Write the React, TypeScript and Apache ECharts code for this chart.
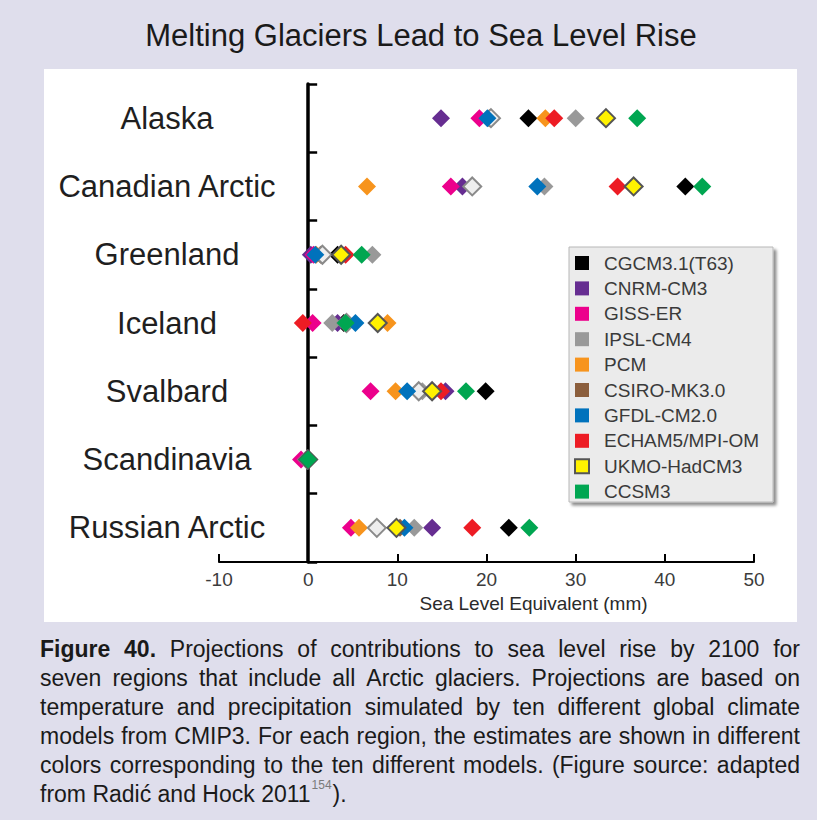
import React, { useEffect, useRef } from "react";
import * as echarts from "echarts";

const regions = ["Alaska", "Canadian Arctic", "Greenland", "Iceland", "Svalbard", "Scandinavia", "Russian Arctic"];

const modelNames = ["CGCM3.1(T63)", "CNRM-CM3", "GISS-ER", "IPSL-CM4", "PCM", "CSIRO-MK3.0", "GFDL-CM2.0", "ECHAM5/MPI-OM", "UKMO-HadCM3", "CCSM3"];

const cgcm = [24.7, 42.3, 3.3, 4.0, 19.9, -0.1, 22.5];
const cnrm = [14.9, 17.3, 0.3, 3.3, 15.4, -0.1, 13.9];
const giss = [19.2, 16.0, 0.6, 0.5, 7.0, -0.8, 4.8];
const ipsl = [30.0, 26.5, 7.2, 2.7, 12.8, -0.1, 11.9];
const pcm = [26.6, 6.6, 0.9, 8.9, 9.8, -0.1, 5.7];
const csiro = [20.3, 18.4, 1.4, 4.2, 13.9, -0.2, 10.3];
const meanVals = [20.5, 18.4, 1.6, 4.3, 12.4, -0.1, 7.7];
const gfdl = [20.1, 25.7, 0.8, 5.3, 11.1, -0.1, 10.8];
const echam = [27.6, 34.7, 4.2, -0.6, 14.9, 0.0, 18.4];
const ukmo = [33.4, 36.5, 3.7, 7.8, 13.9, 0.0, 9.9];
const ccsm = [36.9, 44.2, 6.0, 4.2, 17.7, 0.0, 24.8];

const xTicks = [-10, 0, 10, 20, 30, 40, 50];

const titleText = "Melting Glaciers Lead to Sea Level Rise";
const axisNameText = "Sea Level Equivalent (mm)";
const captionLines = [
  "Figure 40. Projections of contributions to sea level rise by 2100 for",
  "seven regions that include all Arctic glaciers. Projections are based on",
  "temperature and precipitation simulated by ten different global climate",
  "models from CMIP3. For each region, the estimates are shown in different",
  "colors corresponding to the ten different models. (Figure source: adapted",
];
const captionLast = "from Radić and Hock 2011";
const captionSup = "154";
const captionEnd = ").";

const FONT = '"Liberation Sans", Arial, sans-serif';

export default function App() {
  const ref = useRef<HTMLDivElement>(null);
  useEffect(() => {
    document.body.style.margin = "0";
    const chart = echarts.init(ref.current!, null, { renderer: "svg" });

    const canvas = document.createElement("canvas");
    const ctx = canvas.getContext("2d")!;
    const measure = (t: string, size: number, bold: boolean) => {
      ctx.font = `${bold ? "bold " : ""}${size}px "Liberation Sans", Arial, sans-serif`;
      return ctx.measureText(t).width;
    };

    const capL = 40;
    const capR = 800;
    const capSize = 23;
    const baseMid = 649;
    const lineStep = 29;
    const graphics: any[] = [];
    graphics.push({
      type: "rect",
      shape: { x: 44, y: 69, width: 753, height: 553 },
      style: { fill: "#ffffff" },
      z: -10,
    });
    graphics.push({
      type: "rect",
      shape: { x: 569, y: 247, width: 204, height: 255 },
      style: {
        fill: "#ebebeb",
        stroke: "#b8b8b8",
        lineWidth: 1,
        shadowBlur: 3,
        shadowOffsetX: 3,
        shadowOffsetY: 3,
        shadowColor: "rgba(0,0,0,0.45)",
      },
      z: 1,
    });
    graphics.push({
      type: "text",
      x: 421,
      y: 35,
      style: {
        text: titleText,
        fontFamily: FONT,
        fontSize: 31,
        fill: "#1a1a1a",
        align: "center",
        verticalAlign: "middle",
      },
    });

    captionLines.forEach((line, li) => {
      const words = line.split(" ");
      const bolds = words.map((w, wi) => li === 0 && wi < 2);
      const widths = words.map((w, wi) => measure(w, capSize, bolds[wi]));
      const total = widths.reduce((a, b) => a + b, 0);
      const gap = (capR - capL - total) / (words.length - 1);
      let x = capL;
      words.forEach((w, wi) => {
        graphics.push({
          type: "text",
          x,
          y: baseMid + li * lineStep,
          style: {
            text: w,
            fontFamily: FONT,
            fontSize: capSize,
            fontWeight: bolds[wi] ? "bold" : "normal",
            fill: "#1a1a1a",
            align: "left",
            verticalAlign: "middle",
          },
        });
        x += widths[wi] + gap;
      });
    });
    const lastY = baseMid + captionLines.length * lineStep;
    const lastW = measure(captionLast, capSize, false);
    graphics.push({
      type: "text",
      x: capL,
      y: lastY,
      style: { text: captionLast, fontFamily: FONT, fontSize: capSize, fill: "#1a1a1a", align: "left", verticalAlign: "middle" },
    });
    const supW = measure(captionSup, 12, false);
    graphics.push({
      type: "text",
      x: capL + lastW + 1,
      y: lastY - 9,
      style: { text: captionSup, fontFamily: FONT, fontSize: 12, fill: "#7a7a7a", align: "left", verticalAlign: "middle" },
    });
    graphics.push({
      type: "text",
      x: capL + lastW + supW + 2,
      y: lastY,
      style: { text: captionEnd, fontFamily: FONT, fontSize: capSize, fill: "#1a1a1a", align: "left", verticalAlign: "middle" },
    });

    const seriesDefs = [
      { name: modelNames[0], vals: cgcm, color: "#000000" },
      { name: modelNames[1], vals: cnrm, color: "#662d91" },
      { name: modelNames[2], vals: giss, color: "#ec008c" },
      { name: modelNames[3], vals: ipsl, color: "#999999" },
      { name: modelNames[4], vals: pcm, color: "#f7941d" },
      { name: modelNames[5], vals: csiro, color: "#8b5e3c" },
      { name: "Mean", vals: meanVals, color: "#eeeeee", border: "#8a8a8a" },
      { name: modelNames[6], vals: gfdl, color: "#0072bc" },
      { name: modelNames[7], vals: echam, color: "#ed1c24" },
      { name: modelNames[8], vals: ukmo, color: "#fff200", border: "#555555" },
      { name: modelNames[9], vals: ccsm, color: "#00a651" },
    ];

    const series = seriesDefs.map((d) => ({
      type: "scatter",
      name: d.name,
      symbol: "diamond",
      symbolSize: 18,
      data: regions.map((r, i) => [d.vals[i], r]),
      itemStyle: {
        color: d.color,
        borderColor: d.border || d.color,
        borderWidth: d.border ? 2 : 0,
        opacity: 1,
      },
      emphasis: { disabled: true },
    }));

    chart.setOption({
      animation: false,
      backgroundColor: "#dfdeec",
      graphic: graphics,
      grid: { left: 219, top: 84, width: 535, height: 478, containLabel: false, outerBoundsMode: "none" },
      legend: {
        data: modelNames,
        orient: "vertical",
        left: 574,
        top: 253,
        padding: 0,
        itemWidth: 14,
        itemHeight: 14,
        itemGap: 5.4,
        icon: "rect",
        selectedMode: false,
        textStyle: {
          fontFamily: FONT,
          fontSize: 19,
          color: "#3a3a3a",
          lineHeight: 20,
          padding: [0, 0, 0, 10],
        },
      },
      xAxis: {
        type: "value",
        min: xTicks[0],
        max: xTicks[xTicks.length - 1],
        interval: 10,
        axisLine: { show: true, lineStyle: { color: "#000", width: 2 } },
        axisTick: { show: true, inside: true, length: 8, lineStyle: { color: "#000", width: 2 } },
        axisLabel: { margin: 8, fontFamily: FONT, fontSize: 19, color: "#3c3c3c" },
        splitLine: { show: false },
        name: axisNameText,
        nameLocation: "middle",
        nameGap: 31,
        nameTextStyle: { fontFamily: FONT, fontSize: 19, color: "#2a2a2a", padding: [0, 0, 0, 94] },
      },
      yAxis: {
        type: "category",
        data: regions,
        inverse: true,
        axisLine: { show: true, onZero: true, lineStyle: { color: "#000", width: 3.5 } },
        axisTick: { show: true, inside: true, length: 9, lineStyle: { color: "#000", width: 2.5 } },
        axisLabel: { margin: 52, align: "center", fontFamily: FONT, fontSize: 31, color: "#1f1f1f" },
        splitLine: { show: false },
      },
      series,
    });
    return () => chart.dispose();
  }, []);
  return <div ref={ref} style={{ width: 817, height: 820 }} />;
}
